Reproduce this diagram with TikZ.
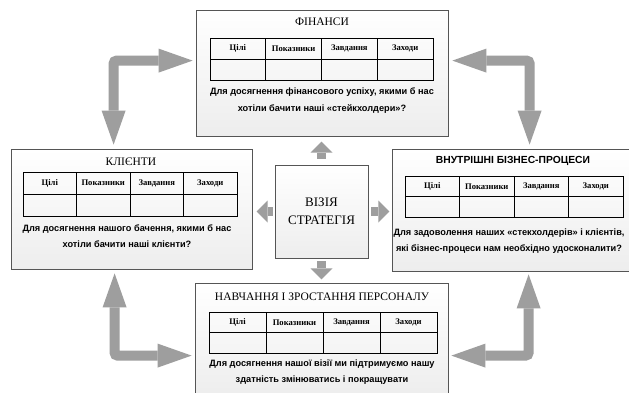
\documentclass[tikz,border=0pt]{standalone}
\usepackage{fontspec}
\setmainfont{Liberation Serif}
\setsansfont{Liberation Sans}
\usetikzlibrary{arrows.meta,shadows,calc}
\definecolor{arrgray}{HTML}{9E9E9E}
\definecolor{boxedge}{HTML}{555555}
\tikzset{
  panel/.style={draw=boxedge, line width=0.8pt, top color=white, bottom color=black!7,
    drop shadow={opacity=0.25,shadow xshift=1.2pt,shadow yshift=-1.2pt}, inner sep=0pt},
  tabline/.style={draw=black, line width=0.7pt},
  hdr/.style={font=\bfseries\fontsize{8.6}{10}\selectfont, inner sep=0pt},
  ttl/.style={font=\fontsize{11.5}{14}\selectfont, inner sep=0pt},
  ttlsans/.style={font=\sffamily\bfseries\fontsize{10.3}{13}\selectfont, inner sep=0pt},
  quest/.style={font=\sffamily\bfseries\fontsize{9.2}{16.5}\selectfont, align=center, inner sep=0pt},
  bigarr/.style={draw=arrgray, line width=10pt, rounded corners=3pt,
    arrows={Triangle[width=24pt,length=34pt,line width=0pt]-Triangle[width=24pt,length=34pt,line width=0pt]}},
  smallarr/.style={draw=arrgray, line width=9pt,
    arrows={-Triangle[width=22pt,length=11pt,line width=0pt]}},
}
\newcommand{\bsctab}[5]{%
  \pgfmathsetmacro\tw{#4/4}
  \draw[tabline] (#2,#3) rectangle ({#2+#4},{#3+#5});
  \draw[tabline, line width=1pt] (#2,{#3+#5/2}) -- ({#2+#4},{#3+#5/2});
  \foreach \i in {1,2,3} {\draw[tabline] ({#2+\i*\tw},#3) -- ({#2+\i*\tw},{#3+#5});}
  \foreach \t [count=\i] in {Цілі,Показники,Завдання,Заходи}
    {\node[hdr] (#1-\i) at ({#2+(\i-0.5)*\tw},{#3+#5/4}) {\t};}
}
\begin{document}
\begin{tikzpicture}[x=1pt,y=-1pt]
\useasboundingbox (0,0) rectangle (629,392);
\fill[white] (0,0) rectangle (629,392);

% panels
\node[panel, minimum width=252pt, minimum height=126pt] (fin) at (322,73) {};
\node[panel, minimum width=241pt, minimum height=120pt] (cli) at (131.5,209) {};
\node[panel, minimum width=242pt, minimum height=122pt] (int) at (513,210) {};
\node[panel, minimum width=253pt, minimum height=113pt] (nav) at (321.5,339.5) {};
\node[panel, minimum width=93pt, minimum height=93pt, align=center,
      font=\fontsize{13}{18}\selectfont] (ctr) at (321.5,211.5) {ВІЗІЯ\\СТРАТЕГІЯ};

% titles
\node[ttl] (finT) at (322,22) {ФІНАНСИ};
\node[ttl] (cliT) at (131,162) {КЛІЄНТИ};
\node[ttlsans] (intT) at (513,161) {ВНУТРІШНІ БІЗНЕС-ПРОЦЕСИ};
\node[ttl] (navT) at (322,297) {НАВЧАННЯ І ЗРОСТАННЯ ПЕРСОНАЛУ};

% tables
\bsctab{fint}{210}{38}{223}{42}
\bsctab{clit}{23}{172}{214}{44}
\bsctab{intt}{405}{176}{218}{41}
\bsctab{navt}{209}{312}{228}{41}

% questions
\node[quest] (finQ) at (322,100.5) {Для досягнення фінансового успіху, якими б нас\\хотіли бачити наші «стейкхолдери»?};
\node[quest] (cliQ) at (127,236) {Для досягнення нашого бачення, якими б нас\\хотіли бачити наші клієнти?};
\node[quest] (intQ) at (509,241) {Для задоволення наших «стекхолдерів» і клієнтів,\\які бізнес-процеси нам необхідно удосконалити?};
\node[quest] (navQ) at (322,372) {Для досягнення нашої візії ми підтримуємо нашу\\здатність змінюватись і покращувати};

% big L arrows
\draw[bigarr] ($(fin.north west)+(-3,51)$) -| ($(cli.north west)+(103,-4)$);
\draw[bigarr] ($(fin.north east)+(4,51)$) -| ($(int.north west)+(138,-4)$);
\draw[bigarr] ($(cli.south west)+(104,4)$) |- ($(nav.north west)+(-3,73)$);
\draw[bigarr] ($(int.south west)+(137,3)$) |- ($(nav.north east)+(3,73)$);

% small arrows
\draw[smallarr] ([yshift=6pt]ctr.north) -- ([yshift=23pt]ctr.north);
\draw[smallarr] ([yshift=-3pt]ctr.south) -- ([yshift=-21pt]ctr.south);
\draw[smallarr] ([xshift=-2pt]ctr.west) -- ([xshift=-18pt]ctr.west);
\draw[smallarr] ([xshift=3pt]ctr.east) -- ([xshift=21pt]ctr.east);
\end{tikzpicture}
\end{document}
